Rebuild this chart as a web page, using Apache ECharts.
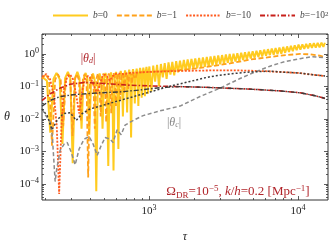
<!DOCTYPE html>
<html><head><meta charset="utf-8">
<script src="https://cdn.jsdelivr.net/npm/echarts@6/dist/echarts.min.js"></script>
<style>html,body{margin:0;padding:0;background:#fff}#c{width:332px;height:248px}</style>
</head><body><div id="c"></div>
<script>
// ---- axis ranges and ticks ----
const X_MIN = 191, X_MAX = 15890, Y_MIN = 3.25e-5, Y_MAX = 4.09;
const xMajorTicks = [1000, 10000];
const xMinorTicks = [200,300,400,500,600,700,800,900,2000,3000,4000,5000,6000,7000,8000,9000];
const yMajorTicks = [1e-4, 1e-3, 1e-2, 1e-1, 1];
const yMinorTicks = [4e-5,5e-5,6e-5,7e-5,8e-5,9e-5,
  2e-4,3e-4,4e-4,5e-4,6e-4,7e-4,8e-4,9e-4,
  2e-3,3e-3,4e-3,5e-3,6e-3,7e-3,8e-3,9e-3,
  2e-2,3e-2,4e-2,5e-2,6e-2,7e-2,8e-2,9e-2,
  0.2,0.3,0.4,0.5,0.6,0.7,0.8,0.9,2,3,4];

// ---- series names ----
const seriesNames = ['b=0', 'b=−1', 'b=−10', 'b=−10²'];
const legendRich = {'b=0':'{i|b}{n|=0}', 'b=−1':'{i|b}{n|=−1}', 'b=−10':'{i|b}{n|=−10}', 'b=−10²':'{i|b}{n|=−10}{s|2}'};

// ---- |theta_d| for b = 0 (tau, theta) ----
const thetaD_b0 = [[191,0.2],[195,0.22],[206,0.15],[217,0.0038],[228,0.17],[239,0.26],[251,0.17],[262,0.0017],[273,0.18],[285,0.28],[296,0.18],[307,0.00044],[318,0.18],[330,0.28],[341,0.18],[352,0.005],[363,0.17],[375,0.26],[386,0.17],[397,0.0033],[408,0.16],[420,0.25],[431,0.16],[442,0.00006],[453,0.16],[465,0.25],[476,0.17],[487,0.005],[498,0.17],[510,0.26],[521,0.17],[532,0.00036],[543,0.18],[555,0.27],[566,0.18],[577,0.00026],[588,0.18],[600,0.28],[611,0.19],[622,0.0012],[633,0.2],[645,0.3],[656,0.2],[667,0.012],[678,0.2],[690,0.31],[701,0.21],[712,0.016],[723,0.21],[735,0.33],[746,0.22],[757,0.0027],[768,0.22],[780,0.34],[791,0.23],[802,0.03],[813,0.23],[825,0.35],[836,0.24],[847,0.025],[858,0.25],[870,0.37],[881,0.25],[892,0.045],[903,0.26],[915,0.38],[926,0.26],[937,0.05],[948,0.27],[960,0.4],[971,0.27],[982,0.06],[993,0.28],[1005,0.41],
[1035,0.07],[1066,0.44],[1098,0.14],[1131,0.46],[1165,0.1],[1200,0.49],[1236,0.19],[1273,0.52],[1311,0.17],[1350,0.55],[1391,0.23],[1432,0.57],[1475,0.22],[1520,0.6],[1565,0.27],[1612,0.62],[1661,0.29],[1711,0.65],[1762,0.31],[1815,0.68],[1869,0.33],[1925,0.7],[1983,0.35],[2042,0.73],[2104,0.36],[2167,0.75],[2232,0.38],[2299,0.78],[2368,0.4],[2439,0.8],[2512,0.41],[2587,0.83],[2665,0.44],[2745,0.86],[2827,0.46],[2912,0.89],[2999,0.48],[3089,0.92],[3182,0.5],[3277,0.96],[3376,0.53],[3477,0.99],[3581,0.55],[3689,1.02],[3799,0.58],[3913,1.05],[4031,0.61],[4152,1.08],[4276,0.65],[4404,1.12],[4537,0.68],[4673,1.16],[4813,0.72],[4957,1.2],[5106,0.76],[5259,1.25],[5417,0.8],[5580,1.3],[5747,0.84],[5920,1.35],[6097,0.88],[6280,1.4],[6468,0.92],[6662,1.46],[6862,0.95],[7068,1.52],[7280,0.98],[7498,1.58],[7723,1.02],[7955,1.64],[8194,1.08],[8439,1.7],[8693,1.15],[8953,1.77],[9222,1.22],[9499,1.84],[9784,1.3],[10077,1.92],[10379,1.36],[10691,1.98],[11011,1.42],[11342,2.04],[11682,1.48],[12032,2.1],[12393,1.53],[12765,2.15],[13148,1.57],[13543,2.2],[13949,1.6],[14367,2.22],[14798,1.65],[15150,2.2]];

// ---- |theta_d| for b = -1 ----
const thetaD_bm1 = [[191,0.17],[202,0.24],[213,0.16],[223,0.0015],[234,0.16],[244,0.24],[255,0.16],[265,0.006],[276,0.16],[286,0.24],[296,0.16],[306,0.003],[317,0.16],[327,0.24],[338,0.16],[348,0.009],[359,0.16],[369,0.24],[380,0.16],[390,0.00016],[401,0.16],[411,0.24],[422,0.17],[432,0.005],[443,0.17],[453,0.25],[463,0.17],[473,0.012],[484,0.17],[494,0.25],[505,0.18],[515,0.008],[526,0.18],[536,0.25],[547,0.18],[557,0.015],[568,0.18],[578,0.26],[589,0.19],[599,0.025],[610,0.19],[620,0.26],[630,0.2],[640,0.04],[651,0.2],[661,0.26],[672,0.21],[682,0.06],[693,0.21],[703,0.27],[714,0.22],[724,0.08],[735,0.22],[745,0.27],[756,0.23],[766,0.12],[777,0.24],[787,0.27],[798,0.25],[808,0.17],[830,0.26],[870,0.27],[1000,0.28],[1300,0.3],[1614,0.32],[2198,0.37],[3494,0.51],[4759,0.67],[7564,0.88],[10300,1.0],[12000,0.97],[14000,0.88],[15160,0.8]];

// ---- |theta_d| for b = -10 ----
const thetaD_bm10 = [[191,0.2],[204,0.24],[216,0.17],[230,0.05],[240,0.006],[249,0.00005],[258,0.006],[268,0.08],[282,0.2],[295,0.23],[308,0.17],[323,0.06],[339,0.015],[355,0.07],[372,0.18],[390,0.21],[408,0.17],[428,0.1],[448,0.06],[468,0.12],[485,0.2],[505,0.23],[525,0.2],[545,0.15],[565,0.2],[590,0.24],[620,0.25],[680,0.24],[750,0.26],[1000,0.28],[1600,0.3],[2500,0.31],[4000,0.31],[5500,0.3],[7500,0.28],[10000,0.26],[12500,0.23],[15160,0.21]];

// ---- |theta_d| for b = -100 ----
const thetaD_bm100 = [[191,0.037],[217,0.06],[253,0.089],[295,0.117],[372,0.133],[469,0.125],[746,0.109],[1185,0.102],[2198,0.0955],[4759,0.083],[7564,0.073],[10302,0.064],[12990,0.052],[15160,0.043]];

// ---- |theta_c| curves ----
const thetaC_b0 = [[191,0.02],[204,0.012],[217,0.008],[224,0.003],[229,0.0006],[234,0.00012],[240,0.0003],[253,0.0011],[269,0.0017],[282,0.0019],[299,0.001],[319,0.00039],[339,0.0012],[366,0.0024],[396,0.0029],[421,0.0017],[448,0.00076],[476,0.0015],[507,0.0027],[547,0.0024],[573,0.0019],[610,0.0047],[649,0.0033],[690,0.0065],[746,0.008],[806,0.0097],[912,0.0127],[1185,0.0178],[1614,0.025],[2198,0.049],[2994,0.089],[4078,0.175],[5141,0.28],[6482,0.42],[8171,0.585],[10302,0.715],[12500,0.82],[15160,0.76]];
const thetaC_bm10 = [[191,0.0204],[207,0.0127],[223,0.0047],[241,0.0091],[265,0.0146],[295,0.0156],[324,0.0091],[355,0.0146],[402,0.0204],[469,0.0249],[547,0.0305],[746,0.0456],[1016,0.068],[1383,0.102],[1884,0.143],[2565,0.2],[3494,0.244],[4759,0.279],[6482,0.295],[7500,0.28],[10000,0.26],[12500,0.23],[15160,0.21]];
const thetaC_bm100 = [[191,0.0249],[217,0.0373],[253,0.0488],[309,0.0557],[469,0.0638],[639,0.0682],[870,0.078],[1185,0.092],[1614,0.099],[2198,0.0955],[4759,0.083],[7564,0.073],[10302,0.064],[12990,0.052],[15160,0.043]];

const SERIF = '"Liberation Serif","Times New Roman",serif';
const INK = '#222';
const RED = '#B0242A';

function powLabel(v) {
  const e = Math.round(Math.log10(v));
  return '{b|10}{s|' + (e < 0 ? '−' + (-e) : e) + '}';
}
const labelRich = {
  b: {fontFamily: SERIF, fontSize: 11, color: INK, lineHeight: 14},
  s: {fontFamily: SERIF, fontSize: 8, color: INK, lineHeight: 8, verticalAlign: 'top'}
};

function mkX(position, ticks, len, withLabel) {
  return {
    type: 'log', logBase: 10, min: X_MIN, max: X_MAX, position: position, gridIndex: 0,
    axisLine: {show: false}, splitLine: {show: false}, minorTick: {show: false},
    axisTick: {show: true, inside: true, length: len, customValues: ticks, lineStyle: {color: '#333', width: 0.8}},
    axisLabel: withLabel ? {show: true, customValues: xMajorTicks, margin: 4, formatter: powLabel, rich: labelRich} : {show: false},
    name: withLabel ? 'τ' : '', nameLocation: 'middle', nameGap: 31,
    nameTextStyle: {fontFamily: SERIF, fontStyle: 'italic', fontSize: 12, color: INK}
  };
}
function mkY(position, ticks, len, withLabel) {
  return {
    type: 'log', logBase: 10, min: Y_MIN, max: Y_MAX, position: position, gridIndex: 0,
    axisLine: {show: false}, splitLine: {show: false}, minorTick: {show: false},
    axisTick: {show: true, inside: true, length: len, customValues: ticks, lineStyle: {color: '#333', width: 0.8}},
    axisLabel: withLabel ? {show: true, customValues: yMajorTicks, margin: 3, formatter: powLabel, rich: labelRich} : {show: false},
    name: withLabel ? 'θ' : '', nameLocation: 'middle', nameGap: 32, nameRotate: 0,
    nameTextStyle: {fontFamily: SERIF, fontStyle: 'italic', fontSize: 12, color: INK}
  };
}

function line(name, data, color, width, type, z) {
  return {type: 'line', name: name, data: data, xAxisIndex: 0, yAxisIndex: 0,
    symbol: 'none', showSymbol: false, smooth: false, silent: true, z: z,
    lineStyle: {color: color, width: width, type: type}, itemStyle: {color: color}};
}

const chart = echarts.init(document.getElementById('c'), null, {renderer: 'canvas'});
chart.setOption({
  animation: false,
  backgroundColor: '#fff',
  grid: {left: 42, right: 4, top: 34, bottom: 39, show: true, borderColor: '#333', borderWidth: 1, backgroundColor: 'transparent'},
  xAxis: [mkX('bottom', xMajorTicks, 4, true), mkX('bottom', xMinorTicks, 2, false), mkX('top', xMajorTicks, 4, false), mkX('top', xMinorTicks, 2, false)],
  yAxis: [mkY('left', yMajorTicks, 4, true), mkY('left', yMinorTicks, 2, false), mkY('right', yMajorTicks, 4, false), mkY('right', yMinorTicks, 2, false)],
  legend: {
    data: seriesNames, left: 47, top: 5, width: 300, itemWidth: 35, itemHeight: 14, itemGap: 8,
    itemStyle: {opacity: 0, borderWidth: 0},
    formatter: function (n) { return legendRich[n]; },
    textStyle: {fontFamily: SERIF, fontSize: 9.5, color: '#444', rich: {
      i: {fontFamily: SERIF, fontStyle: 'italic', fontSize: 9.5, color: '#444'},
      n: {fontFamily: SERIF, fontSize: 9.5, color: '#444'},
      s: {fontFamily: SERIF, fontSize: 7, color: '#444', verticalAlign: 'top', lineHeight: 7}
    }}
  },
  series: [
    line(seriesNames[0], thetaD_b0, '#FFCB1F', 2, 'solid', 2),
    line(seriesNames[1], thetaD_bm1, '#FFA11A', 1.8, [5, 2.5], 3),
    line(seriesNames[2], thetaD_bm10, '#FF5A1E', 1.8, [2, 1.5], 4),
    line(seriesNames[3], thetaD_bm100, '#C8201A', 1.6, [5, 2, 1.5, 2], 5),
    line('|θc| b=0', thetaC_b0, '#8C8C8C', 1.5, [4, 2.5], 6),
    line('|θc| b=−10', thetaC_bm10, '#3C3C3C', 1.5, [2, 2], 7),
    line('|θc| b=−10²', thetaC_bm100, '#3C3C3C', 1.4, [5, 2, 1.5, 2], 7)
  ],
  graphic: [
    {type: 'text', x: 88, y: 59, silent: true, style: {text: '{n||}{i|θ}{d|d}{n||}', align: 'center', verticalAlign: 'middle', fill: RED,
      rich: {n: {fontFamily: SERIF, fontSize: 12, color: RED}, i: {fontFamily: SERIF, fontStyle: 'italic', fontSize: 12, color: RED}, d: {fontFamily: SERIF, fontStyle: 'italic', fontSize: 8, color: RED, verticalAlign: 'bottom', lineHeight: 8}}}},
    {type: 'text', x: 174, y: 123, silent: true, style: {text: '{n||}{i|θ}{d|c}{n||}', align: 'center', verticalAlign: 'middle', fill: '#888',
      rich: {n: {fontFamily: SERIF, fontSize: 12, color: '#888'}, i: {fontFamily: SERIF, fontStyle: 'italic', fontSize: 12, color: '#888'}, d: {fontFamily: SERIF, fontStyle: 'italic', fontSize: 8, color: '#888', verticalAlign: 'bottom', lineHeight: 8}}}},
    {type: 'text', x: 238, y: 192, silent: true, style: {text: '{n|Ω}{sub|DR}{n|=10}{sup|−5}{n|, }{i|k}{n|/}{i|h}{n|=0.2 [Mpc}{sup|−1}{n|]}', align: 'center', verticalAlign: 'middle', fill: RED,
      rich: {n: {fontFamily: SERIF, fontSize: 13, color: RED, lineHeight: 16}, i: {fontFamily: SERIF, fontStyle: 'italic', fontSize: 13, color: RED, lineHeight: 16},
        sub: {fontFamily: SERIF, fontSize: 9, color: RED, verticalAlign: 'bottom', lineHeight: 9},
        sup: {fontFamily: SERIF, fontSize: 9, color: RED, verticalAlign: 'top', lineHeight: 9}}}}
  ]
});
</script></body></html>
